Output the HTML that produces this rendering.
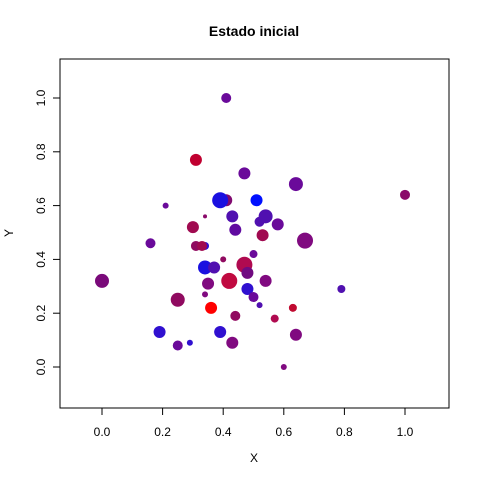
<!DOCTYPE html>
<html><head><meta charset="utf-8"><style>
body{margin:0;background:#fff}
svg text{font-family:"Liberation Sans",sans-serif;fill:#000}
</style></head><body>
<svg id="chart" width="480" height="480" xmlns="http://www.w3.org/2000/svg">
<rect width="480" height="480" fill="#fff"/>
<text x="254" y="36" text-anchor="middle" font-size="14" font-weight="bold">Estado inicial</text>
<rect x="60" y="59" width="389" height="349" fill="none" stroke="#000"/>
<text x="254" y="462" text-anchor="middle" font-size="12">X</text>
<text x="13" y="233" text-anchor="middle" font-size="12" transform="rotate(-90 13 233)">Y</text>
<g id="axes"></g>
<g id="points"></g>
</svg>
<script>
const xs=[0.00,1.00,0.41,0.31,0.47,0.64,0.41,0.39,0.51,0.21,0.43,0.54,0.52,0.34,0.58,0.30,0.44,0.53,0.16,0.67,0.31,0.34,0.33,0.50,0.40,0.47,0.34,0.37,0.48,0.42,0.35,0.54,0.48,0.50,0.34,0.25,0.36,0.52,0.63,0.44,0.57,0.19,0.39,0.64,0.29,0.25,0.43,0.79,0.60];
const ys=[0.32,0.64,1.00,0.77,0.72,0.68,0.62,0.62,0.62,0.60,0.56,0.56,0.54,0.56,0.53,0.52,0.51,0.49,0.46,0.47,0.45,0.45,0.45,0.42,0.40,0.38,0.37,0.37,0.35,0.32,0.31,0.32,0.29,0.26,0.27,0.25,0.22,0.23,0.22,0.19,0.18,0.13,0.13,0.12,0.09,0.08,0.09,0.29,0.00];
const sizes=[7,5,5,6,6,7,6,8,6,3,6,7,5,2,6,6,6,6,5,8,5,4,5,4,3,8,7,6,6,8,6,6,6,5,3,7,6,3,4,5,4,6,6,6,3,5,6,4,3];
const cols=["#7a0a7a","#8a0a6a","#6a0a9a","#c00030","#6a0a9a","#6a0a9a","#800a70","#1a10e0","#0010ff","#6a0a9a","#5010b0","#5010b0","#5010b0","#8a0a6a","#6a0a9a","#a00a50","#600aa0","#a00a50","#6a0a9a","#800a80","#900a60","#3010d0","#a00a50","#6a0a9a","#900a60","#b00a50","#1a10e0","#5010b0","#700a80","#c00a40","#800a80","#800a80","#3010d0","#6a0a9a","#800a80","#900a60","#ff0000","#5010b0","#c00a30","#900a60","#b00a50","#3010d0","#3010d0","#800a80","#3010d0","#6a0a9a","#800a80","#5010b0","#800a80"];
const xTicks=[0,0.2,0.4,0.6,0.8,1.0];
const yTicks=[0,0.2,0.4,0.6,0.8,1.0];
const tickLabels=["0.0","0.2","0.4","0.6","0.8","1.0"];
const NS="http://www.w3.org/2000/svg";
function sx(v){return 102+v*303;}
function sy(v){return 367-v*269;}
const ax=document.getElementById('axes');
function mk(t,a,p){const e=document.createElementNS(NS,t);for(const k in a)e.setAttribute(k,a[k]);p.appendChild(e);return e;}
mk('line',{x1:sx(0),x2:sx(1),y1:408,y2:408,stroke:'#000'},ax);
mk('line',{x1:60,x2:60,y1:sy(0),y2:sy(1),stroke:'#000'},ax);
xTicks.forEach((v,i)=>{
 const l=mk('line',{x1:sx(v),x2:sx(v),y1:408,y2:415,stroke:'#000'},ax);
 
 
 const t=mk('text',{x:sx(v),y:436,'text-anchor':'middle','font-size':'12'},ax);
 t.textContent=tickLabels[i];
 
 
});
yTicks.forEach((v,i)=>{
 const l=mk('line',{x1:53,x2:60,y1:sy(v),y2:sy(v),stroke:'#000'},ax);
 
 
 const t=mk('text',{x:45,y:sy(v),'text-anchor':'middle','font-size':'12',transform:`rotate(-90 45 ${sy(v)})`},ax);
 t.textContent=tickLabels[i];
 
 
});
const pg=document.getElementById('points');
xs.forEach((x,i)=>{
 const c=mk('circle',{cx:sx(x),cy:sy(ys[i]),r:sizes[i],fill:cols[i]},pg);
 
 
});
</script>
</body></html>
